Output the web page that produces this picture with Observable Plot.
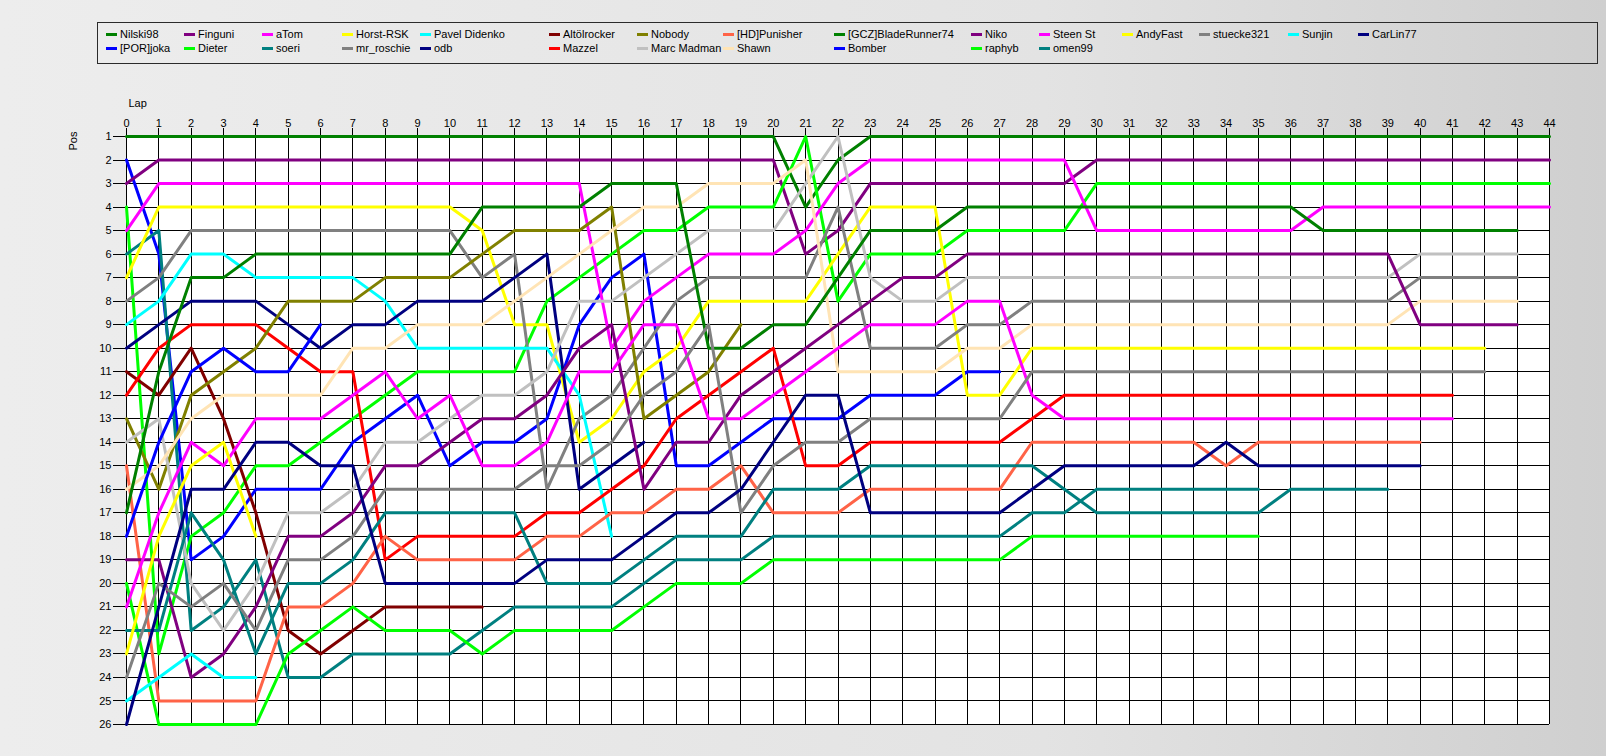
<!DOCTYPE html>
<html>
<head>
<meta charset="utf-8">
<script src="https://cdn.jsdelivr.net/npm/d3@7"></script>
<script src="https://cdn.jsdelivr.net/npm/@observablehq/plot@0.6"></script>
<style>
  html, body { margin: 0; padding: 0; }
  body {
    width: 1606px; height: 756px; overflow: hidden; position: relative;
    background: linear-gradient(to right, #ededed 0%, #e3e3e3 65%, #cfcfcf 100%);
    font-family: "Liberation Sans", Arial, sans-serif; font-size: 11px; color: #000;
  }
  #legend {
    position: absolute; left: 97px; top: 22px; width: 1501px; height: 42px;
    box-sizing: border-box; border: 1px solid #2b2b2b; padding: 4px 0 0 8px;
    display: grid; grid-template-rows: 14px 14px;
    grid-template-columns: 78px 78px 80px 78px 129px 88px 86px 111px 137px 68px 83px 77px 89px 70px auto;
  }
  .item { display: flex; align-items: center; white-space: nowrap; line-height: 14px; }
  .sw { width: 11px; height: 3px; margin-right: 3px; flex: none; }
  #chart { position: absolute; left: 0; top: 64px; }
</style>
</head>
<body>
<div id="legend"></div>
<div id="chart"></div>
<script>
// Drivers in starting-grid order (series order) and their line colours
const drivers = ["Nilski98", "[POR]joka", "Finguni", "Dieter", "aTom", "soeri", "Horst-RSK", "mr_roschie",
  "Pavel Didenko", "odb", "Altölrocker", "Mazzel", "Nobody", "Marc Madman", "[HD]Punisher", "Shawn",
  "[GCZ]BladeRunner74", "Bomber", "Niko", "raphyb", "Steen St", "omen99", "AndyFast", "stuecke321",
  "Sunjin", "CarLin77"];
const colors = ["#008000", "#0000FF", "#800080", "#00FF00", "#FF00FF", "#008080", "#FFFF00", "#808080",
  "#00FFFF", "#000080", "#800000", "#FF0000", "#808000", "#C0C0C0", "#FF6347", "#FFE4B5",
  "#008000", "#0000FF", "#800080", "#00FF00", "#FF00FF", "#008080", "#FFFF00", "#808080",
  "#00FFFF", "#000080"];

// Running position at the end of each lap (index = lap, starting with the grid at lap 0)
const posNilski98 = [1,1,1,1,1,1,1,1,1,1, 1,1,1,1,1,1,1,1,1,1, 1,4,2,1,1,1,1,1,1,1, 1,1,1,1,1,1,1,1,1,1, 1,1,1,1,1];
const posPORjoka = [2,6,19,18,16,16,16,14,13,12, 15,14,14,13,9,7,6,15,15,14, 13,13,13,12,12,12,11,11];
const posFinguni = [3,2,2,2,2,2,2,2,2,2, 2,2,2,2,2,2,2,2,2,2, 2,6,5,3,3,3,3,3,3,3, 2,2,2,2,2,2,2,2,2,2, 2,2,2,2,2];
const posDieter = [4,23,18,17,15,15,14,13,12,11, 11,11,11,8,7,6,5,5,4,4, 4,1,8,6,6,6,5,5,5,5, 3,3,3,3,3,3,3,3,3,3, 3,3,3,3,3];
const posATom = [5,3,3,3,3,3,3,3,3,3, 3,3,3,3,3,10,8,7,6,6, 6,5,3,2,2,2,2,2,2,2, 5,5,5,5,5,5,5,4,4,4, 4,4,4,4,4];
const posSoeri = [6,5,22,21,19,24,24,23,23,23, 23,22,21,21,21,21,20,19,19,19, 18,18,18,18,18,18,18,18,17,17, 16,16,16,16,16,16];
const posHorstRSK = [7,4,4,4,4,4,4,4,4,4, 4,5,9,9,14,13,11,10,8,8, 8,8,6,4,4,4,12,12,10,10, 10,10,10,10,10,10,10,10,10,10, 10,10,10];
const posMrRoschie = [8,7,5,5,5,5,5,5,5,5, 5,7,6,16,13,12,10,8,7,7, 7,7,4,10,10,10,9,9,8,8, 8,8,8,8,8,8,8,8,8,8, 7,7,7,7];
const posPavel = [9,8,6,6,7,7,7,7,8,10, 10,10,10,10,12,18];
const posOdb = [10,9,8,8,8,9,10,9,9,8, 8,8,7,6,16,15,14];
const posAltoelrocker = [11,12,10,13,17,22,23,22,21,21, 21,21];
const posMazzel = [12,10,9,9,9,10,11,11,19,18, 18,18,18,17,17,16,15,13,12,11, 10,15,15,14,14,14,14,14,13,12, 12,12,12,12,12,12,12,12,12,12, 12,12];
const posNobody = [13,16,12,11,10,8,8,8,7,7, 7,6,5,5,5,4,13,12,11,9];
const posMarcMadman = [14,13,20,22,20,17,17,16,14,14, 13,12,12,11,8,8,7,6,5,5, 5,3,1,7,8,8,7,7,7,7, 7,7,7,7,7,7,7,7,7,7, 6,6,6,6];
const posHDPunisher = [15,25,25,25,25,21,21,20,18,19, 19,19,19,18,18,17,17,16,16,15, 17,17,17,16,16,16,16,16,14,14, 14,14,14,14,15,14,14,14,14,14, 14];
const posShawn = [16,15,13,12,12,12,12,10,10,9, 9,9,8,7,6,5,4,4,3,3, 3,2,11,11,11,11,10,10,9,9, 9,9,9,9,9,9,9,9,9,9, 8,8,8,8];
const posBladeRunner = [17,11,7,7,6,6,6,6,6,6, 6,4,4,4,4,3,3,3,10,10, 9,9,7,5,5,5,4,4,4,4, 4,4,4,4,4,4,4,5,5,5, 5,5,5,5];
const posBomber = [18,14,11,10,11,11,9];
const posNiko = [19,19,24,23,21,18,18,17,15,15, 14,13,13,12,10,9,16,14,14,12, 11,10,9,8,7,7,6,6,6,6, 6,6,6,6,6,6,6,6,6,6, 9,9,9,9];
const posRaphyb = [20,26,26,26,26,23,22,21,22,22, 22,23,22,22,22,22,21,20,20,20, 19,19,19,19,19,19,19,19,18,18, 18,18,18,18,18,18];
const posSteenSt = [21,17,14,15,13,13,13,12,11,13, 12,15,15,14,11,11,9,9,13,13, 12,11,10,9,9,9,8,8,12,13, 13,13,13,13,13,13,13,13,13,13, 13,13];
const posOmen99 = [22,22,17,19,23,20,20,19,17,17, 17,17,17,20,20,20,19,18,18,18, 16,16,16,15,15,15,15,15,15,16, 17,17,17,17,17,17,16,16,16,16];
const posAndyFast = [23,18,15,14,18];
const posStuecke321 = [24,20,21,20,22,19,19,18,16,16, 16,16,16,15,15,14,12,11,9,17, 15,14,14,13,13,13,13,13,11,11, 11,11,11,11,11,11,11,11,11,11, 11,11,11];
const posSunjin = [25,24,23,24,24];
const posCarLin77 = [26,21,16,16,14,14,15,15,20,20, 20,20,20,19,19,19,18,17,17,16, 14,12,12,17,17,17,17,17,16,15, 15,15,15,15,14,15,15,15,15,15, 15];

const lapTicks = d3.range(0, 45);
const posTicks = d3.range(1, 27);

const series = [posNilski98, posPORjoka, posFinguni, posDieter, posATom, posSoeri, posHorstRSK, posMrRoschie,
  posPavel, posOdb, posAltoelrocker, posMazzel, posNobody, posMarcMadman, posHDPunisher, posShawn,
  posBladeRunner, posBomber, posNiko, posRaphyb, posSteenSt, posOmen99, posAndyFast, posStuecke321,
  posSunjin, posCarLin77];

// Long table: one row per driver and lap
const rows = [];
drivers.forEach((name, i) => {
  series[i].forEach((pos, lap) => rows.push({name, lap, pos, color: colors[i]}));
});

// Legend: first 22 entries fill two rows column by column, the rest continue on the top row
const legend = document.getElementById("legend");
drivers.forEach((name, i) => {
  const item = document.createElement("div");
  item.className = "item";
  const col = i < 22 ? Math.floor(i / 2) + 1 : 12 + (i - 22);
  const row = i < 22 ? (i % 2) + 1 : 1;
  item.style.gridColumn = col;
  item.style.gridRow = row;
  const sw = document.createElement("span");
  sw.className = "sw";
  sw.style.background = colors[i];
  const label = document.createElement("span");
  label.textContent = name;
  item.append(sw, label);
  legend.append(item);
});

const chart = Plot.plot({
  width: 1606,
  height: 692,
  marginLeft: 126,
  marginRight: 57,
  marginTop: 72,
  marginBottom: 32,
  x: {domain: [0, 44]},
  y: {domain: [1, 26], reverse: true},
  color: {type: "identity"},
  style: {fontFamily: "'Liberation Sans', Arial, sans-serif", fontSize: "11px", background: "transparent", color: "#000"},
  marks: [
    Plot.frame({fill: "white", stroke: null}),
    Plot.ruleX(lapTicks, {stroke: "#000", strokeWidth: 1, shapeRendering: "crispEdges"}),
    Plot.ruleY(posTicks, {stroke: "#000", strokeWidth: 1, shapeRendering: "crispEdges"}),
    Plot.axisX({ticks: lapTicks, anchor: "top", tickSize: 9, tickPadding: 1, label: null, tickFormat: d => d, shapeRendering: "crispEdges"}),
    Plot.axisY({ticks: posTicks, anchor: "left", tickSize: 13, tickPadding: 2, label: null, tickFormat: d => d, shapeRendering: "crispEdges"}),
    Plot.line(rows, {x: "lap", y: "pos", z: "name", stroke: "color", strokeWidth: 3}),
    Plot.text(["Lap"], {text: d => d, frameAnchor: "top-left", dx: 2, dy: -37, textAnchor: "start"}),
    Plot.text(["Pos"], {text: d => d, frameAnchor: "top-left", dx: -57, dy: 14, rotate: -90})
  ]
});
document.getElementById("chart").append(chart);
</script>
</body>
</html>
